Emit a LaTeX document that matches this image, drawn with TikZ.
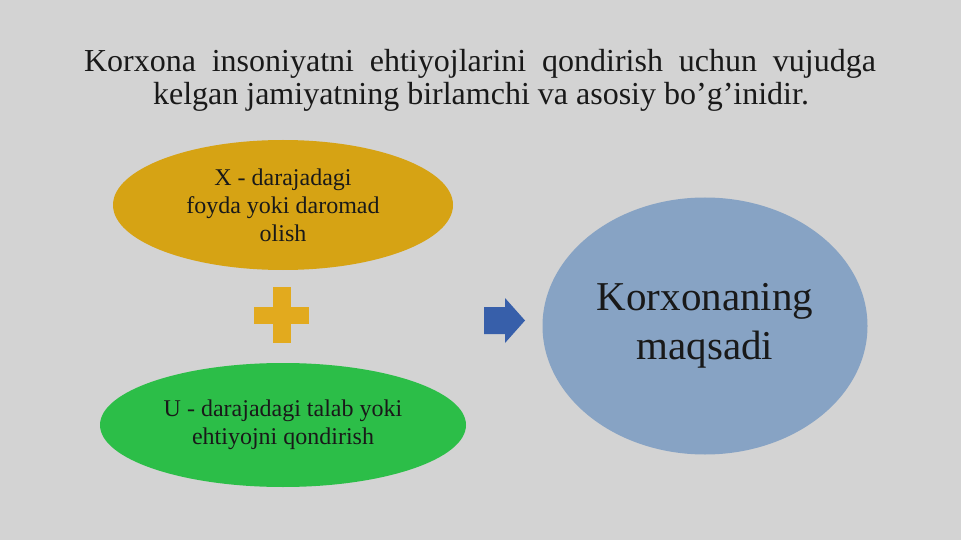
\documentclass[tikz,border=0pt]{standalone}
\usepackage{fontspec}
\setmainfont{Liberation Serif}
\usepackage{tikz}
\usetikzlibrary{shapes.geometric}
\definecolor{bggray}{RGB}{211,211,211}
\definecolor{goldfill}{RGB}{214,163,20}
\definecolor{plusgold}{RGB}{226,170,30}
\definecolor{leafgreen}{RGB}{44,190,72}
\definecolor{arrowblue}{RGB}{55,95,170}
\definecolor{steelfill}{RGB}{135,163,196}

\begin{document}
\begin{tikzpicture}[x=1pt,y=-1pt,
    blob/.style={ellipse,inner sep=0pt,align=center,text=black!90},
    heading/.style={anchor=base,font=\fontsize{32}{33}\selectfont,text=black!90}]
    % background and page size
    \fill[bggray] (0,0) rectangle (961,540);
    \useasboundingbox (0,0) rectangle (961,540);
    % heading
    \node[heading] (title1) at (480,72) {\makebox[792pt][s]{Korxona insoniyatni ehtiyojlarini qondirish uchun vujudga}};
    \node[heading] (title2) at (481,105) {kelgan jamiyatning birlamchi va asosiy bo’g’inidir.};
    % the two parts
    \node[blob,fill=goldfill,minimum width=340pt,minimum height=130pt,
          font=\fontsize{24}{28}\selectfont] (foyda) at (283,205)
          {X - darajadagi\\foyda yoki daromad\\olish};
    \node[blob,fill=leafgreen,minimum width=366pt,minimum height=124pt,
          font=\fontsize{24}{28}\selectfont] (talab) at (283,425)
          {U - darajadagi talab yoki\\ehtiyojni qondirish};
    % plus sign
    \fill[plusgold] (273,287) rectangle (291,343);
    \fill[plusgold] (254,307) rectangle (309,324);
    % block arrow
    \fill[arrowblue] (484,307) -- (505,307) -- (505,298) -- (525,320.5)
        -- (505,343) -- (505,334) -- (484,334) -- cycle;
    % goal
    \node[blob,fill=steelfill,minimum width=325pt,minimum height=257pt,
          font=\fontsize{41}{49}\selectfont] (maqsad) at (705,326)
          {Korxonaning\\maqsadi};
\end{tikzpicture}
\end{document}
